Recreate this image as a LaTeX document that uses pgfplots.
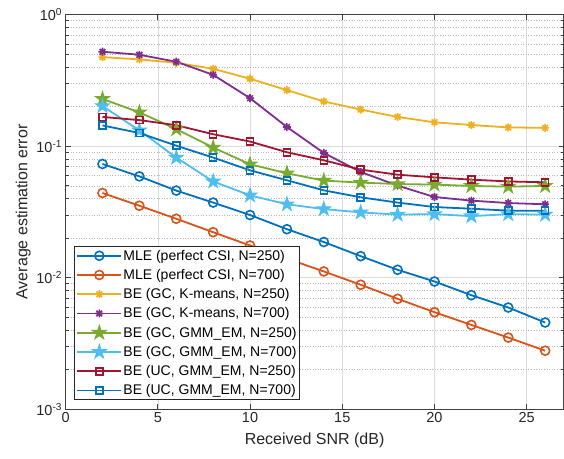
\documentclass[border=0pt]{standalone}
\usepackage{fontspec}
\setmainfont{Liberation Sans}
\usepackage{pgfplots}
\pgfplotsset{compat=1.18}
\definecolor{mblue}{rgb}{0,0.447,0.741}
\definecolor{morange}{rgb}{0.85,0.325,0.098}
\definecolor{myellow}{rgb}{0.929,0.694,0.125}
\definecolor{mpurple}{rgb}{0.494,0.184,0.556}
\definecolor{mgreen}{rgb}{0.466,0.674,0.188}
\definecolor{mlblue}{rgb}{0.301,0.745,0.933}
\definecolor{mred}{rgb}{0.635,0.078,0.184}
\pgfdeclareplotmark{ast8}{%
 \pgfpathmoveto{\pgfqpoint{-\pgfplotmarksize}{0pt}}\pgfpathlineto{\pgfqpoint{\pgfplotmarksize}{0pt}}%
 \pgfpathmoveto{\pgfqpoint{0pt}{-\pgfplotmarksize}}\pgfpathlineto{\pgfqpoint{0pt}{\pgfplotmarksize}}%
 \pgfpathmoveto{\pgfqpoint{-.7071\pgfplotmarksize}{-.7071\pgfplotmarksize}}\pgfpathlineto{\pgfqpoint{.7071\pgfplotmarksize}{.7071\pgfplotmarksize}}%
 \pgfpathmoveto{\pgfqpoint{-.7071\pgfplotmarksize}{.7071\pgfplotmarksize}}\pgfpathlineto{\pgfqpoint{.7071\pgfplotmarksize}{-.7071\pgfplotmarksize}}%
 \pgfusepathqstroke}
\pgfdeclareplotmark{pent}{%
 \pgfpathmoveto{\pgfqpointpolar{90}{\pgfplotmarksize}}%
 \pgfpathlineto{\pgfqpointpolar{126}{.382\pgfplotmarksize}}%
 \pgfpathlineto{\pgfqpointpolar{162}{\pgfplotmarksize}}%
 \pgfpathlineto{\pgfqpointpolar{198}{.382\pgfplotmarksize}}%
 \pgfpathlineto{\pgfqpointpolar{234}{\pgfplotmarksize}}%
 \pgfpathlineto{\pgfqpointpolar{270}{.382\pgfplotmarksize}}%
 \pgfpathlineto{\pgfqpointpolar{306}{\pgfplotmarksize}}%
 \pgfpathlineto{\pgfqpointpolar{342}{.382\pgfplotmarksize}}%
 \pgfpathlineto{\pgfqpointpolar{18}{\pgfplotmarksize}}%
 \pgfpathlineto{\pgfqpointpolar{54}{.382\pgfplotmarksize}}%
 \pgfpathclose\pgfusepathqfillstroke}
\begin{document}
\begin{tikzpicture}
\begin{axis}[
  at={(65.6pt,48.7pt)}, anchor=south west,
  scale only axis, width=498pt, height=394.6pt,
  ymode=log, xmin=0, xmax=27, ymin=1e-3, ymax=1,
  xtick={0,5,10,15,20,25},
  ytick={1e-3,1e-2,1e-1,1},
  yticklabels={10\textsuperscript{-3},10\textsuperscript{-2},10\textsuperscript{-1},10\textsuperscript{0}},
  /pgf/number format/assume math mode=true,
  tick label style={font=\fontsize{14.5}{17}\selectfont, color=black!85},
  label style={font=\fontsize{16}{19}\selectfont, color=black!85},
  xlabel={Received SNR (dB)}, ylabel={Average estimation error},
  xlabel style={at={(axis description cs:0.5,-0.078)}, anchor=center},
  ylabel style={at={(axis description cs:-0.085,0.5)}, anchor=center},
  axis line style={black!75, line width=0.7pt},
  tick style={black!75, line width=0.7pt},
  tick align=inside, major tick length=5pt, minor tick length=3pt,
  grid=both,
  major grid style={black!14, line width=0.6pt},
  minor grid style={black!28, line width=0.6pt, dotted},
  minor x tick num=0,
  every axis plot/.append style={line width=1.8pt, mark options={solid, line width=1.6pt}},
  legend style={at={(0.017,0.024)}, anchor=south west, font=\fontsize{14}{16.5}\selectfont,
    draw=black!85, line width=0.7pt, fill=white, inner sep=2pt, row sep=5.2pt,
    nodes={inner sep=1.2pt}},
  legend cell align=left,
  legend image code/.code={\draw[mark repeat=2,mark phase=2] plot coordinates {(0pt,0pt) (22pt,0pt) (44pt,0pt)};},
]
\addplot[mblue, mark=o, mark size=4.5pt] coordinates {(2,0.0733)(4,0.059)(6,0.046)(8,0.0373)(10,0.030)(12,0.0234)(14,0.0187)(16,0.0146)(18,0.0115)(20,0.00937)(22,0.00737)(24,0.00594)(26,0.00457)};
\addlegendentry{MLE (perfect CSI, N=250)}
\addplot[morange, mark=o, mark size=4.5pt] coordinates {(2,0.0441)(4,0.0353)(6,0.0281)(8,0.0222)(10,0.0176)(12,0.0140)(14,0.01117)(16,0.00885)(18,0.00692)(20,0.00547)(22,0.00438)(24,0.00351)(26,0.00279)};
\addlegendentry{MLE (perfect CSI, N=700)}
\addplot[myellow, mark=ast8, mark size=4pt] coordinates {(2,0.476)(4,0.457)(6,0.431)(8,0.388)(10,0.326)(12,0.267)(14,0.219)(16,0.190)(18,0.167)(20,0.152)(22,0.145)(24,0.139)(26,0.138)};
\addlegendentry{BE (GC, K-means, N=250)}
\addplot[mpurple, mark=ast8, mark size=4pt] coordinates {(2,0.523)(4,0.496)(6,0.439)(8,0.349)(10,0.232)(12,0.140)(14,0.0889)(16,0.0637)(18,0.0502)(20,0.0411)(22,0.0386)(24,0.0370)(26,0.0362)};
\addlegendentry{BE (GC, K-means, N=700)}
\addplot[mgreen, mark=pent, mark size=6pt, mark options={fill=mgreen}] coordinates {(2,0.229)(4,0.181)(6,0.135)(8,0.0977)(10,0.0729)(12,0.0623)(14,0.0548)(16,0.0529)(18,0.0516)(20,0.0511)(22,0.0499)(24,0.0493)(26,0.0499)};
\addlegendentry{BE (GC, GMM\_EM, N=250)}
\addplot[mlblue, mark=pent, mark size=6pt, mark options={fill=mlblue}] coordinates {(2,0.202)(4,0.132)(6,0.082)(8,0.054)(10,0.0423)(12,0.0362)(14,0.0333)(16,0.0314)(18,0.0302)(20,0.0305)(22,0.0294)(24,0.0305)(26,0.0302)};
\addlegendentry{BE (GC, GMM\_EM, N=700)}
\addplot[mred, mark=square, mark size=3.5pt] coordinates {(2,0.167)(4,0.158)(6,0.1445)(8,0.1234)(10,0.1086)(12,0.090)(14,0.0782)(16,0.0664)(18,0.0608)(20,0.058)(22,0.0557)(24,0.054)(26,0.0532)};
\addlegendentry{BE (UC, GMM\_EM, N=250)}
\addplot[mblue, mark=square, mark size=3.5pt] coordinates {(2,0.144)(4,0.126)(6,0.101)(8,0.082)(10,0.0656)(12,0.0551)(14,0.0462)(16,0.0409)(18,0.0373)(20,0.0345)(22,0.0335)(24,0.0324)(26,0.0323)};
\addlegendentry{BE (UC, GMM\_EM, N=700)}
\end{axis}
\pgfresetboundingbox
\path[use as bounding box] (0pt,0pt) rectangle (564pt,458pt);
\end{tikzpicture}
\end{document}
